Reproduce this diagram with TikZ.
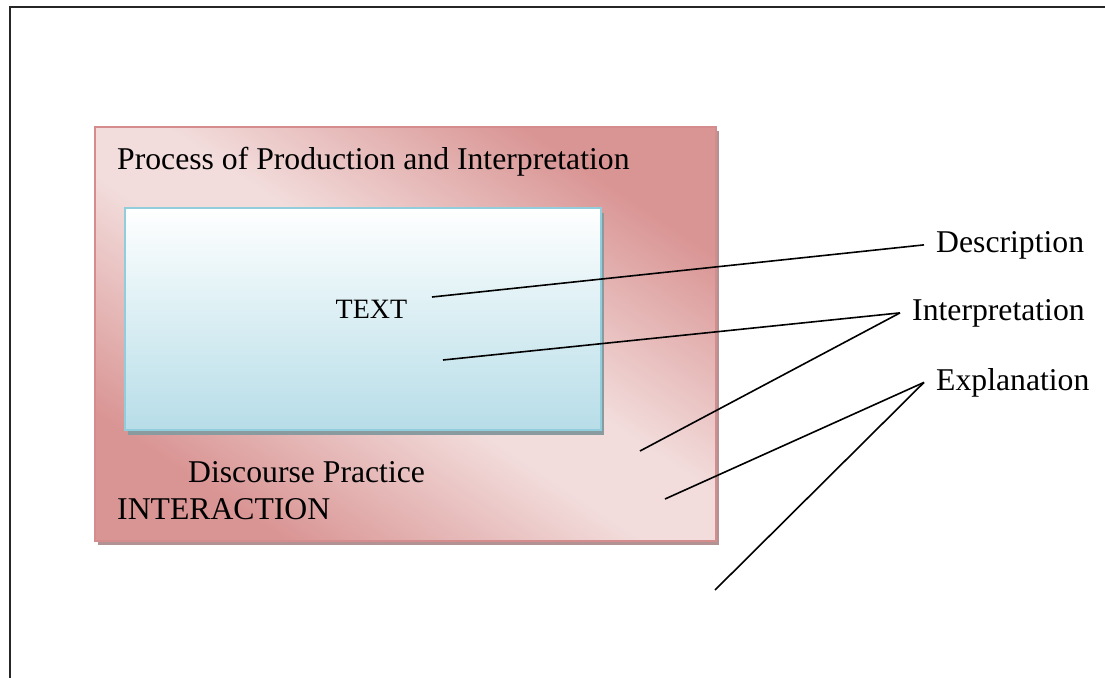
\documentclass[tikz,border=0pt]{standalone}
\usepackage{fontspec}
\setmainfont{Liberation Serif}
\usetikzlibrary{shadows}
\definecolor{pinkdark}{RGB}{217,149,148}
\definecolor{pinklight}{RGB}{242,221,220}
\definecolor{pinkedge}{RGB}{212,140,140}
\definecolor{pinkshadow}{RGB}{178,146,147}
\definecolor{bluelow}{RGB}{183,221,232}
\definecolor{bluemid}{RGB}{218,238,243}
\definecolor{blueedge}{RGB}{146,205,220}
\definecolor{blueshadow}{RGB}{138,155,160}
% dark corners, light band along the falling diagonal
\pgfdeclareverticalshading{pinkdiag}{100bp}{color(0bp)=(pinkdark); color(26bp)=(pinkdark);
  color(46bp)=(pinklight); color(54bp)=(pinklight); color(74bp)=(pinkdark); color(100bp)=(pinkdark)}
\begin{document}
\begin{tikzpicture}[x=1pt,y=-1pt,
  txt/.style={anchor=base west,inner sep=0pt,font=\fontsize{31.7}{36}\selectfont},
  sidelabel/.style={txt,inner xsep=12pt},
  leader/.style={line width=1.6pt,black},
  framebox/.style={rectangle,inner sep=0pt,minimum width=621,minimum height=414,
    draw=pinkedge,line width=2pt,
    shading=pinkdiag,shading angle=-33.7,
    drop shadow={shadow xshift=3pt,shadow yshift=-4pt,fill=pinkshadow,opacity=1}},
  textbox/.style={rectangle,inner sep=0pt,minimum width=476,minimum height=222,
    draw=blueedge,line width=2.5pt,
    top color=white,bottom color=bluelow,middle color=bluemid,
    drop shadow={shadow xshift=3pt,shadow yshift=-5pt,fill=blueshadow,opacity=1}},
]
\useasboundingbox (0,0) rectangle (1105,677);

% page frame, running off the right and bottom edges
\begin{scope}
  \clip (0,0) rectangle (1105,677);
  \draw[line width=2.2pt,black!85] (10,7) rectangle (1130,700);
\end{scope}

% nested boxes
\node[framebox] (outer) at (405.5,334) {};
\node[textbox] (inner) at (363,319) {};

% texts inside the boxes
\node[txt] (proc) at (117,169) {Process of Production and Interpretation};
\node[txt,anchor=base,font=\fontsize{28}{32}\selectfont] (text) at (371.5,318) {TEXT};
\node[txt] (disc) at (188,482) {Discourse Practice};
\node[txt] (inter) at (117,519) {INTERACTION};

% labels on the right
\node[sidelabel] (desc) at (924,252) {Description};
\node[sidelabel] (interp) at (900,320) {Interpretation};
\node[sidelabel] (expl) at (924,390) {Explanation};

% free ends of the leader lines
\coordinate (d1) at (432,297);
\coordinate (i1) at (443,360);
\coordinate (i2) at (640,451);
\coordinate (e1) at (665,499);
\coordinate (e2) at (715,590);

\draw[leader] (d1) -- (desc.west);
\draw[leader] (i1) -- (interp.west);
\draw[leader] (i2) -- (interp.west);
\draw[leader] (e1) -- (expl.west);
\draw[leader] (e2) -- (expl.west);
\end{tikzpicture}
\end{document}
